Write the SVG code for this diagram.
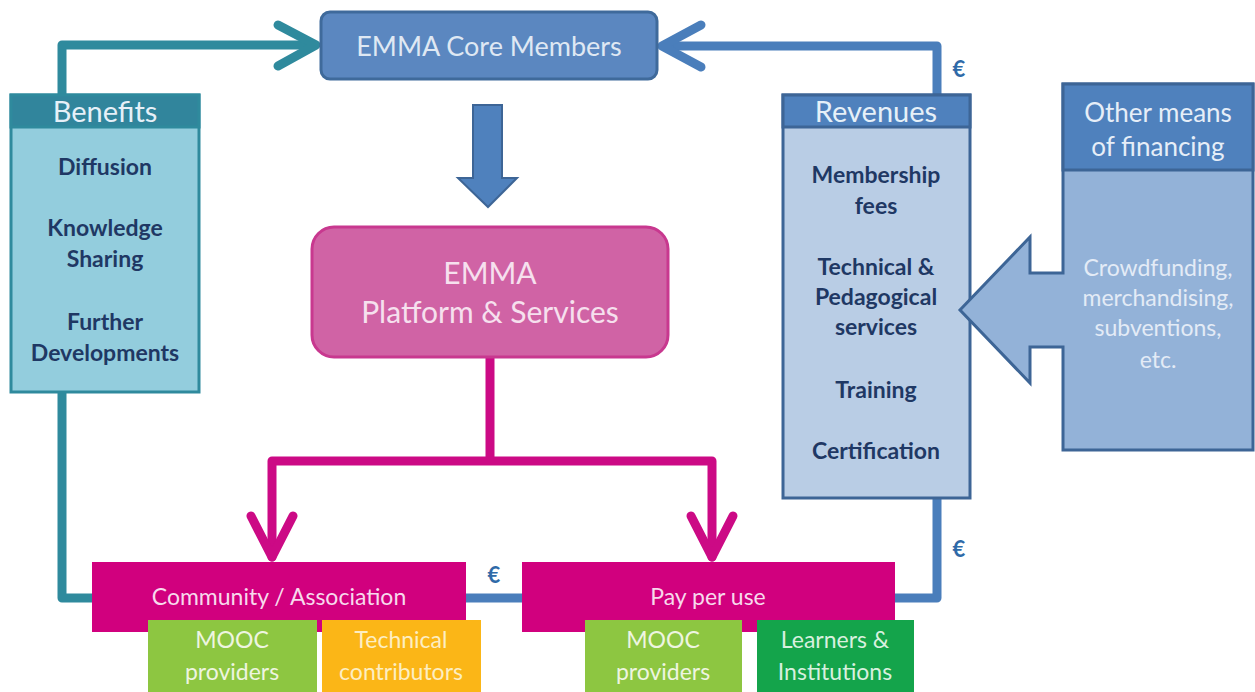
<svg xmlns="http://www.w3.org/2000/svg" width="1255" height="692" viewBox="0 0 1255 692">
<style>
text{font-family:Lato,"Open Sans","DejaVu Sans",sans-serif;text-anchor:middle}
.item{font-size:23px;font-weight:bold;fill:#1f3864}
.hdr{font-size:29px;fill:#e6f0f8}
.conn{fill:none;stroke-width:9;stroke-linecap:round;stroke-linejoin:round}
.teal{stroke:#2f8a9d}
.blue{stroke:#4a7ebb}
.mag{stroke:#cc0a85}
.euro{font-size:22px;font-weight:bold;fill:#2f6aa8}
.small{font-size:23px;fill:#eef5e0}
.other{font-size:23px;fill:#e3ebf6}
</style>
<rect width="1255" height="692" fill="#ffffff"/>
<g id="connectors">
<path class="conn teal" d="M62,95 V45 H314"/>
<polyline class="conn teal" points="278,25 316,45 278,66"/>
<path class="conn blue" d="M937,95 V46 H664"/>
<polyline class="conn blue" points="701,25 662,46 701,67"/>
<path class="conn teal" d="M62,392 V598 H94"/>
<path class="conn blue" d="M937,498 V598 H893"/>
<path class="conn blue" d="M464,598 H524"/>
<path class="conn mag" d="M490,358 V461 M272,461 H712 M272,461 V557 M712,461 V557"/>
<polyline class="conn mag" points="251,516 272,557 293,516"/>
<polyline class="conn mag" points="691,516 712,557 733,516"/>
<polygon points="473,105 502,105 502,178 517,178 488,207 458,178 473,178" fill="#4f81bd" stroke="#3d6596" stroke-width="2"/>
<text class="euro" x="959" y="77">€</text>
<text class="euro" x="959" y="557">€</text>
<text class="euro" x="494" y="583">€</text>
</g>
<g id="core">
<rect x="321" y="12" width="336" height="67" rx="9" fill="#5b87c0" stroke="#3f6a9b" stroke-width="3"/>
<text x="489" y="56" style="font-size:27px;fill:#dfe8f3">EMMA Core Members</text>
</g>
<g id="benefits">
<rect x="11" y="95" width="188" height="297" fill="#93cddd" stroke="#2f8a9d" stroke-width="3"/>
<rect x="11" y="95" width="188" height="32" fill="#31859c" stroke="#2f8a9d" stroke-width="3"/>
<text class="hdr" x="105" y="122">Benefits</text>
<text class="item" x="105" y="175">Diffusion</text>
<text class="item" x="105" y="236">Knowledge</text>
<text class="item" x="105" y="267">Sharing</text>
<text class="item" x="105" y="330">Further</text>
<text class="item" x="105" y="361">Developments</text>
</g>
<g id="platform">
<rect x="312" y="227" width="356" height="130" rx="22" fill="#d063a5" stroke="#c8388f" stroke-width="3"/>
<text x="490" y="284" style="font-size:30px;fill:#f6e0ee">EMMA</text>
<text x="490" y="323" style="font-size:30px;fill:#f6e0ee">Platform &amp; Services</text>
</g>
<g id="revenues">
<rect x="783" y="95" width="187" height="403" fill="#b9cde5" stroke="#3d6596" stroke-width="3"/>
<rect x="783" y="95" width="187" height="32" fill="#4f81bd" stroke="#3d6596" stroke-width="3"/>
<text class="hdr" x="876" y="122">Revenues</text>
<text class="item" x="876" y="183">Membership</text>
<text class="item" x="876" y="214">fees</text>
<text class="item" x="876" y="275">Technical &amp;</text>
<text class="item" x="876" y="305">Pedagogical</text>
<text class="item" x="876" y="335">services</text>
<text class="item" x="876" y="398">Training</text>
<text class="item" x="876" y="459">Certification</text>
</g>
<g id="other">
<path d="M1063,84 H1253 V450 H1063 V347 H1030 V383 L960,310 L1030,237 V273 H1063 Z" fill="#93b2d8" stroke="#3d6596" stroke-width="3" stroke-linejoin="miter"/>
<rect x="1063" y="84" width="190" height="86" fill="#4f81bd" stroke="#3d6596" stroke-width="3"/>
<text x="1158" y="122" style="font-size:26px;fill:#e6eef8">Other means</text>
<text x="1158" y="156" style="font-size:26px;fill:#e6eef8">of financing</text>
<text class="other" x="1158" y="276">Crowdfunding,</text>
<text class="other" x="1158" y="306">merchandising,</text>
<text class="other" x="1158" y="336">subventions,</text>
<text class="other" x="1158" y="368">etc.</text>
</g>
<g id="community">
<rect x="92" y="562" width="374" height="70" fill="#d1007e"/>
<text x="279" y="605" style="font-size:23px;fill:#f7d9ec">Community / Association</text>
</g>
<g id="payperuse">
<rect x="522" y="562" width="373" height="70" fill="#d1007e"/>
<text x="708" y="605" style="font-size:23px;fill:#f7d9ec">Pay per use</text>
</g>
<g id="mooc1">
<rect x="148" y="620" width="169" height="72" fill="#8dc641"/>
<text class="small" x="232" y="648">MOOC</text>
<text class="small" x="232" y="680">providers</text>
</g>
<g id="techcontrib">
<rect x="322" y="620" width="159" height="72" fill="#fbb617"/>
<text class="small" x="401" y="648" style="fill:#fdeec2">Technical</text>
<text class="small" x="401" y="680" style="fill:#fdeec2">contributors</text>
</g>
<g id="mooc2">
<rect x="585" y="620" width="157" height="72" fill="#8dc641"/>
<text class="small" x="663" y="648">MOOC</text>
<text class="small" x="663" y="680">providers</text>
</g>
<g id="learners">
<rect x="757" y="620" width="157" height="72" fill="#14a44b"/>
<text class="small" x="835" y="648" style="fill:#d8f0df">Learners &amp;</text>
<text class="small" x="835" y="680" style="fill:#d8f0df">Institutions</text>
</g>
</svg>
